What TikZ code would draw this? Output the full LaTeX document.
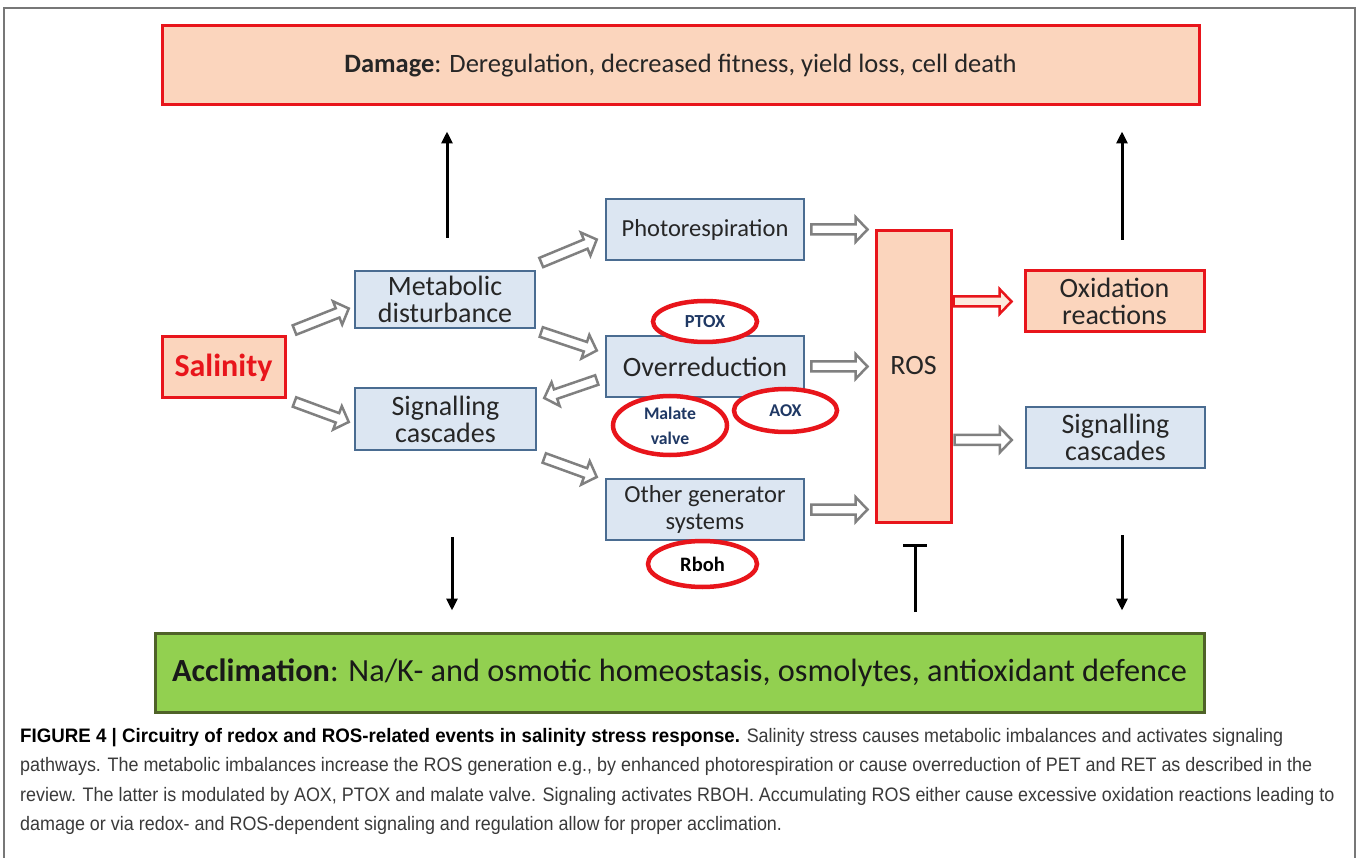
\documentclass[tikz,border=0pt]{standalone}
\usepackage{fontspec}
\setmainfont{Carlito}
\newfontfamily\capfont[FakeStretch=0.92]{Liberation Sans}
\newfontfamily\capbold[FakeStretch=0.96]{Liberation Sans Bold}
\usetikzlibrary{calc,arrows.meta,shapes.geometric}
\definecolor{peach}{HTML}{FBD5BD}
\definecolor{redb}{HTML}{E8151B}
\definecolor{bluefill}{HTML}{DCE6F2}
\definecolor{blueline}{HTML}{4A6C91}
\definecolor{greenfill}{HTML}{92D050}
\definecolor{greenline}{HTML}{4F6228}
\definecolor{arrgray}{HTML}{808080}
\definecolor{elltext}{HTML}{1F3864}
\definecolor{captext}{HTML}{3A3A3A}
\definecolor{framegray}{HTML}{777777}
\tikzset{
  bluebox/.style={draw=blueline, fill=bluefill, line width=2.5pt, align=center,
    font=\fontsize{28}{27}\selectfont, text=black!85, inner sep=0pt},
  redbox/.style={draw=redb, fill=peach, line width=3pt, align=center,
    font=\fontsize{28}{27}\selectfont, text=black!85, inner sep=0pt},
  ellip/.style={ellipse, draw=redb, line width=4.5pt, fill=white, inner sep=0pt,
    align=center, font=\bfseries\fontsize{18.4}{20}\selectfont, text=elltext},
  hollow/.style={draw=arrgray, fill=white, line width=2.5pt, line join=miter},
  hollowred/.style={draw=redb, fill=peach!50, line width=2.5pt, line join=miter},
  blk/.style={line width=3pt, -{Triangle[length=12pt,width=11pt]}},
  capline/.style={anchor=base west, inner sep=0pt, text=captext,
    font=\capfont\fontsize{19.5}{22}\selectfont}
}
% hollow block arrow from #2 to #3
\newcommand{\harrow}[3][hollow]{%
  \coordinate (hA) at #2; \coordinate (hB) at #3;
  \coordinate (hC) at ($(hB)!12pt!(hA)$);
  \draw[#1] ($(hA)!5pt!90:(hB)$) -- ($(hC)!5pt!90:(hB)$) -- ($(hC)!12.5pt!90:(hB)$)
    -- (hB) -- ($(hC)!12.5pt!-90:(hB)$) -- ($(hC)!5pt!-90:(hB)$)
    -- ($(hA)!5pt!-90:(hB)$) -- cycle;
}
\begin{document}
\begin{tikzpicture}[x=1pt,y=-1pt]
\useasboundingbox (0,0) rectangle (1358,858);
\fill[white] (0,0) rectangle (1358,858);
\draw[framegray, line width=1.5pt] (4,875) -- (4,8) -- (1355,8) -- (1355,875);

% top and bottom bands
\node[redbox, minimum width=1037pt, minimum height=79pt,
  font=\fontsize{26.5}{30}\selectfont] (damage) at (680.5,65.5)
  {\textbf{Damage}: Deregulation, decreased fitness, yield loss, cell death};
\node[draw=greenline, fill=greenfill, line width=3pt, inner sep=0pt,
  minimum width=1049pt, minimum height=79pt, text=black!90,
  font=\fontsize{32.3}{34}\selectfont] (accl) at (679.5,672.5)
  {\textbf{Acclimation}: Na/K- and osmotic homeostasis, osmolytes, antioxidant defence};

% left column
\node[redbox, minimum width=123pt, minimum height=61pt, text=redb,
  font=\bfseries\fontsize{32}{34}\selectfont] (sal) at (223.5,367.5) {Salinity};
\node[bluebox, minimum width=180pt, minimum height=57pt] (metab) at (445,299.5)
  {Metabolic\\disturbance};
\node[bluebox, minimum width=181pt, minimum height=62pt] (sigL) at (445.5,419)
  {Signalling\\cascades};

% middle column
\node[bluebox, minimum width=198pt, minimum height=61pt,
  font=\fontsize{24.5}{27}\selectfont] (photo) at (705,229.5)
  {Photorespiration};
\node[bluebox, minimum width=198pt, minimum height=61pt] (overred) at (705,366.5)
  {Overreduction};
\node[bluebox, minimum width=198pt, minimum height=61pt,
  font=\fontsize{24.5}{27}\selectfont] (other) at (705,509.5)
  {Other generator\\systems};

% ellipses
\node[ellip, minimum width=104pt, minimum height=41pt] (ptox) at (705,321.5) {PTOX};
\node[ellip, minimum width=114pt, minimum height=59pt,
  font=\bfseries\fontsize{17.7}{25}\selectfont] (malate) at (670,425.5) {Malate\\valve};
\node[ellip, minimum width=103pt, minimum height=43pt,
  font=\bfseries\fontsize{18}{20}\selectfont] (aox) at (785.5,410.5) {AOX};
\node[ellip, minimum width=109pt, minimum height=46pt, text=black,
  font=\bfseries\fontsize{20.5}{22}\selectfont] (rboh) at (702.5,564) {Rboh};

% ROS and right column
\node[redbox, minimum width=75pt, minimum height=291pt] (ros) at (913.5,376.5) {};
\node[font=\fontsize{28}{28}\selectfont, text=black!85, inner sep=0pt] (roslbl) at (913.5,366) {ROS};
\node[redbox, minimum width=179pt, minimum height=61pt] (oxid) at (1114.5,301.5)
  {Oxidation\\reactions};
\node[bluebox, minimum width=179pt, minimum height=61pt] (sigR) at (1115.5,437.5)
  {Signalling\\cascades};

% hollow arrows
\harrow{($(sal.east)+(8,-37.5)$)}{($(metab.west)+(-5,9)$)}
\harrow{($(sal.east)+(8,34.5)$)}{($(sigL.west)+(-5,3)$)}
\harrow{($(metab.east)+(5,-37)$)}{($(photo.west)+(-8,10)$)}
\harrow{($(metab.east)+(5,32.5)$)}{($(overred.west)+(-8,-16)$)}
\harrow{($(overred.west)+(-8,13.5)$)}{($(sigL.east)+(7,-21)$)}
\harrow{($(sigL.east)+(7,39)$)}{($(other.west)+(-8,-32.5)$)}
\harrow{($(photo.east)+(6,0)$)}{($(ros.west|-photo.east)+(-7,0)$)}
\harrow{($(overred.east)+(6,0)$)}{($(ros.west|-overred.east)+(-7,0)$)}
\harrow{($(other.east)+(6,0)$)}{($(ros.west|-other.east)+(-7,0)$)}
\harrow[hollowred]{($(ros.east|-oxid.west)+(1,0)$)}{($(oxid.west)+(-12,0)$)}
\harrow{($(ros.east|-sigR.west)+(2,2.5)$)}{($(sigR.west)+(-13,2.5)$)}

% black arrows
\coordinate (uL) at (447,238);
\coordinate (uR) at (1122,240);
\coordinate (dL) at (452,537);
\coordinate (dR) at (1122,535);
\coordinate (tT) at (915,612);
\draw[blk] (uL) -- ($(damage.south)!(uL)!(damage.south east)+(0,25)$);
\draw[blk] (uR) -- ($(damage.south)!(uR)!(damage.south east)+(0,25)$);
\draw[blk] (dL) -- ($(accl.north)!(dL)!(accl.north east)+(0,-21)$);
\draw[blk] (dR) -- ($(accl.north)!(dR)!(accl.north east)+(0,-21)$);
\draw[line width=3pt, -{Bar[width=24pt,line width=3pt]}] (tT) -- ($(ros.south)!(tT)!(ros.south east)+(0,20)$);

% caption
\node[capline] (c1) at (20,742) {{\capbold\color{black}FIGURE 4 | Circuitry of redox and ROS-related events in salinity stress response.} Salinity stress causes metabolic imbalances and activates signaling};
\node[capline] (c2) at (20,771.5) {pathways. The metabolic imbalances increase the ROS generation e.g., by enhanced photorespiration or cause overreduction of PET and RET as described in the};
\node[capline] (c3) at (20,801) {review. The latter is modulated by AOX, PTOX and malate valve. Signaling activates RBOH. Accumulating ROS either cause excessive oxidation reactions leading to};
\node[capline] (c4) at (20,830) {damage or via redox- and ROS-dependent signaling and regulation allow for proper acclimation.};
\end{tikzpicture}
\end{document}
